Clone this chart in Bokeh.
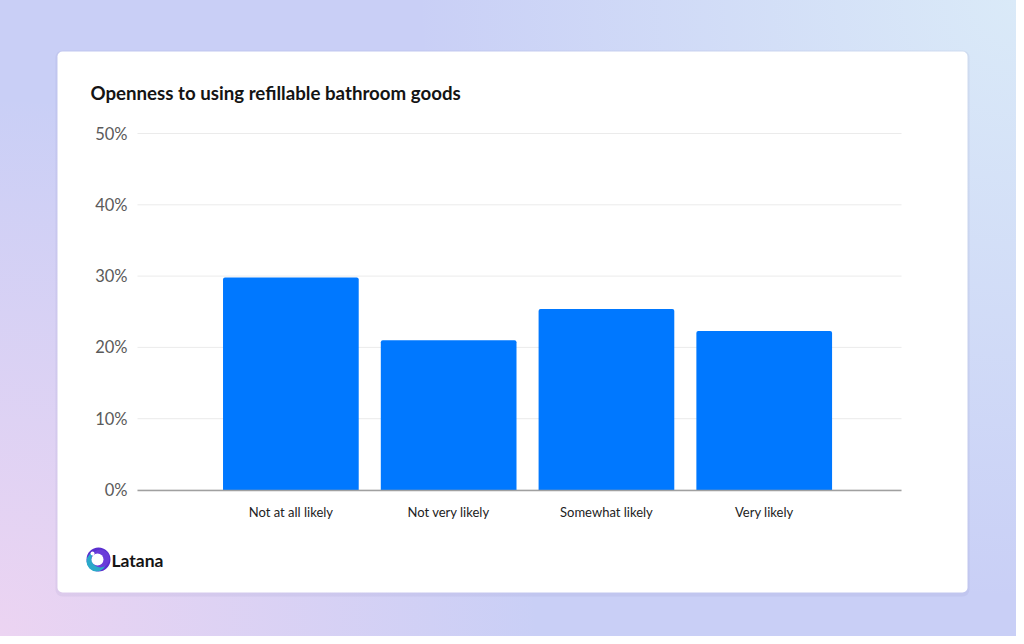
from bokeh.plotting import figure
from bokeh.models import (Range1d, FixedTicker, PrintfTickFormatter, Label,
                          BoxAnnotation, InlineStyleSheet, LinearAxis)
from bokeh.embed import file_html
from bokeh.resources import INLINE

# ---- data ----
categories = ["Not at all likely", "Not very likely", "Somewhat likely", "Very likely"]
values = [29.8, 21.0, 25.4, 22.3]
y_ticks = [0, 10, 20, 30, 40, 50]
title_text = "Openness to using refillable bathroom goods"
brand_text = "Latana"

FONT = "Lato"
OFF = 0                     # picture origin offset
W, H = 1016, 636            # figure size
FL, FR, FT, FB = 137, 901, 133, 489.5   # chart area in picture pixels
X0, X1 = -0.972, 3.870
Y0, Y1 = 0, 50


def px2x(px):
    return X0 + (px - FL) * (X1 - X0) / (FR - FL)


def py2y(py):
    return Y0 + (FB - py) * (Y1 - Y0) / (FB - FT)


xs = list(range(len(categories)))

p = figure(width=W, height=H, output_backend="svg", toolbar_location=None,
           x_range=Range1d(px2x(OFF), px2x(OFF + W)),
           y_range=Range1d(py2y(OFF + H), py2y(OFF)),
           x_axis_type=None, y_axis_type=None,
           min_border=0, min_border_left=0, min_border_right=0,
           min_border_top=0, min_border_bottom=0)
p.stylesheets = [InlineStyleSheet(css="""
:host {
  background:
    radial-gradient(circle at 0% 100%, rgba(236,212,242,1) 0%, rgba(236,212,242,0) 45%),
    radial-gradient(circle at 100% 0%, rgba(218,234,248,1) 0%, rgba(218,234,248,0) 50%),
    #c9cff6;
}
""")]
p.border_fill_color = None
p.background_fill_color = None
p.outline_line_color = None

# card shadow + card
p.add_layout(BoxAnnotation(left=px2x(55), right=px2x(969), top=py2y(50), bottom=py2y(596),
                           fill_color="#8080b0", fill_alpha=0.10, line_color=None,
                           border_radius=7, level="underlay"))
p.add_layout(BoxAnnotation(left=px2x(57), right=px2x(967), top=py2y(51), bottom=py2y(592),
                           fill_color="white", fill_alpha=1.0, line_color=None,
                           border_radius=5, level="underlay"))

# gridlines (span only the chart area)
gx0 = [px2x(FL)] * len(y_ticks)
gx1 = [px2x(FR)] * len(y_ticks)
p.segment(x0=gx0, x1=gx1, y0=y_ticks, y1=y_ticks, line_color="#ebebeb", line_width=1)

p.vbar(x=xs, top=values, width=0.86, bottom=0, fill_color="#0078ff",
       line_color=None, border_radius=(2, 2, 0, 0))

# axes
xaxis = LinearAxis(fixed_location=0, bounds=(px2x(FL), px2x(FR)),
                   ticker=FixedTicker(ticks=xs),
                   major_label_overrides={i: c for i, c in enumerate(categories)})
xaxis.axis_line_color = "#a0a0a0"
xaxis.axis_line_width = 1.3
xaxis.major_tick_line_color = None
xaxis.minor_tick_line_color = None
xaxis.major_label_standoff = 8
xaxis.major_label_text_font = FONT
xaxis.major_label_text_font_size = "13px"
xaxis.major_label_text_color = "#222222"
p.add_layout(xaxis, "below")

yaxis = LinearAxis(fixed_location=px2x(FL), bounds=(Y0, Y1),
                   ticker=FixedTicker(ticks=y_ticks),
                   formatter=PrintfTickFormatter(format="%d%%"))
yaxis.axis_line_color = None
yaxis.major_tick_line_color = None
yaxis.minor_tick_line_color = None
yaxis.major_label_standoff = 4
yaxis.major_label_text_font = FONT
yaxis.major_label_text_font_size = "16.5px"
yaxis.major_label_text_color = "#5a5a5a"
p.add_layout(yaxis, "left")

# title
p.add_layout(Label(x=px2x(90), y=py2y(92), text=title_text, text_font=FONT,
                   text_font_size="18.7px", text_font_style="bold",
                   text_color="#141414", text_baseline="middle", text_align="left"))

# logo
def circ(cx, cy, r, color):
    return BoxAnnotation(left=px2x(cx - r), right=px2x(cx + r), top=py2y(cy - r),
                         bottom=py2y(cy + r), fill_color=color, fill_alpha=1.0,
                         line_color=None, border_radius=int(round(r)), level="annotation")

p.add_layout(circ(98, 559, 12, "#5a2fcf"))
p.add_layout(circ(96, 561, 10, "#2aa9c9"))
p.add_layout(circ(100, 558, 9, "#6a3bd9"))
p.add_layout(circ(97, 559, 6, "white"))
p.add_layout(circ(92, 553, 2, "white"))
p.add_layout(Label(x=px2x(111), y=py2y(559.5), text=brand_text, text_font=FONT,
                   text_font_size="17.5px", text_font_style="bold",
                   text_color="#141414", text_baseline="middle", text_align="left"))

open("out.html", "w").write(file_html(p, INLINE))
